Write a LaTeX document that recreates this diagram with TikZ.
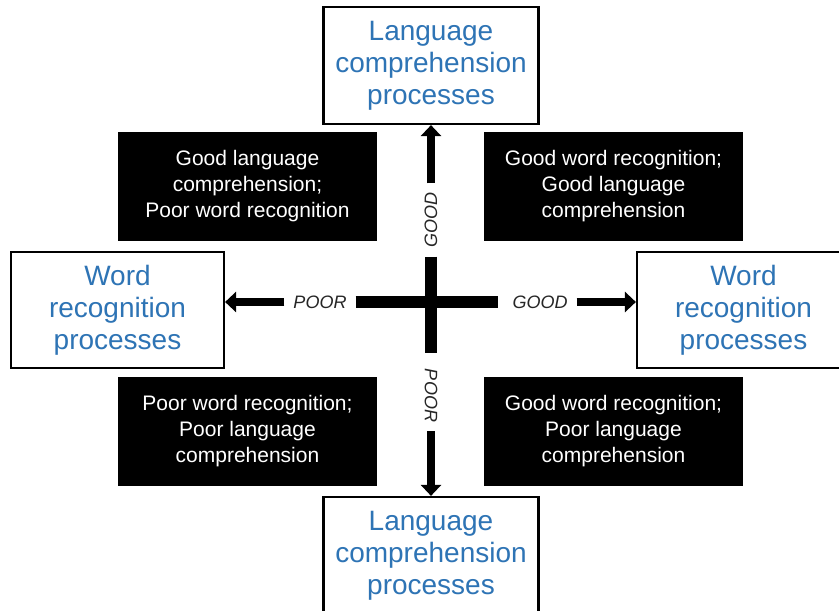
\documentclass[tikz,border=0pt]{standalone}
\usepackage{fontspec}
\setmainfont{Liberation Sans}
\usetikzlibrary{arrows.meta}
\definecolor{procblue}{RGB}{46,116,181}
\begin{document}
\begin{tikzpicture}[x=1pt,y=1pt,
    procbox/.style={draw=black,line width=2.2pt,fill=white,text=procblue,align=center,
        minimum width=215pt,minimum height=117pt,inner sep=0pt,
        font=\fontsize{28}{32}\selectfont},
    quadbox/.style={fill=black,text=white,align=center,minimum width=259pt,
        minimum height=109pt,inner sep=0pt,font=\fontsize{21}{26}\selectfont},
    axislbl/.style={text=black!85,inner xsep=9pt,inner ysep=0pt,
        font=\fontsize{18}{20}\selectfont\itshape},
    bigarrow/.style={line width=8pt,-{Triangle[width=20pt,length=11pt]}},
    crossbar/.style={line width=12pt}]
\useasboundingbox (0,0) rectangle (839,611);
\node[procbox] (top) at (431,545.5) {Language\\comprehension\\processes};
\node[procbox] (bottom) at (431,55.5) {Language\\comprehension\\processes};
\node[procbox,minimum width=213pt,minimum height=116pt] (left) at (117.5,301) {Word\\recognition\\processes};
\node[procbox,minimum width=213pt,minimum height=116pt] (right) at (743.5,301) {Word\\recognition\\processes};
\node[quadbox] (gcpw) at (247.5,424.5) {Good language\\comprehension;\\Poor word recognition};
\node[quadbox] (gwgc) at (613.5,424.5) {Good word recognition;\\Good language\\comprehension};
\node[quadbox] (pwpc) at (247.5,179.5) {Poor word recognition;\\Poor language\\comprehension};
\node[quadbox] (gwpc) at (613.5,179.5) {Good word recognition;\\Poor language\\comprehension};
\node[axislbl,rotate=90] (lblUp) at (431,391) {GOOD};
\node[axislbl,rotate=-90] (lblDown) at (431,215.5) {POOR};
\node[axislbl] (lblLeft) at (320,309) {POOR};
\node[axislbl] (lblRight) at (540,309) {GOOD};
\draw[crossbar,shorten >=5pt] (lblLeft) -- (lblRight);
\draw[crossbar,shorten >=7pt] (lblUp) -- (lblDown);
\draw[bigarrow] (lblUp) -- (top);
\draw[bigarrow] (lblDown) -- (bottom);
\draw[bigarrow] (lblLeft) -- (lblLeft -| left.east);
\draw[bigarrow] (lblRight) -- (lblRight -| right.west);
\end{tikzpicture}
\end{document}
